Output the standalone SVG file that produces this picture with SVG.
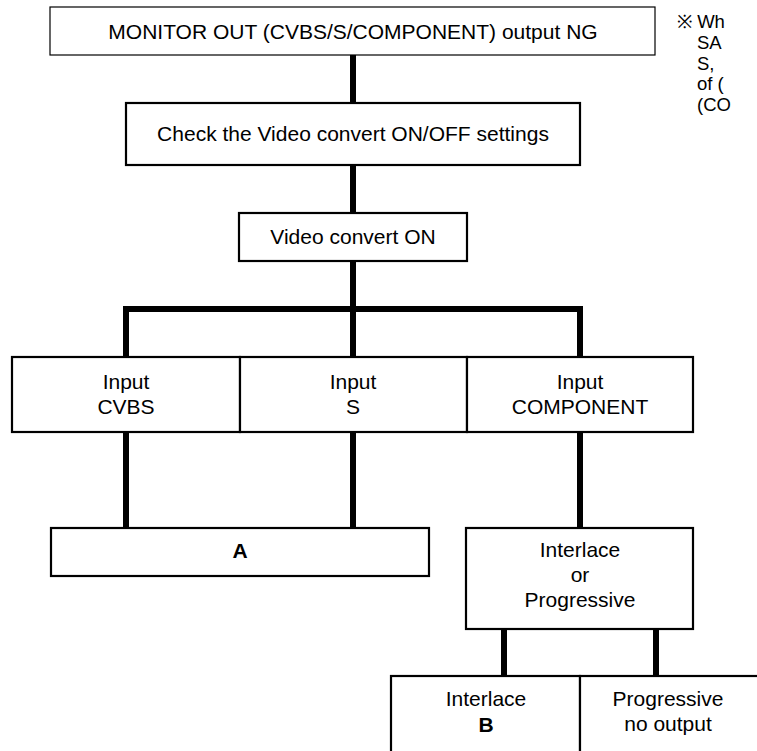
<svg xmlns="http://www.w3.org/2000/svg" width="757" height="751" viewBox="0 0 757 751">
<style>
.bx{fill:#fff;stroke:#000;stroke-width:2.2}
.thin{fill:#fff;stroke:#000;stroke-width:1.2}
.t{font-family:"Liberation Sans",Arial,sans-serif;font-size:21px;fill:#000;text-anchor:middle}
.tl{font-family:"Liberation Sans",Arial,sans-serif;font-size:18.5px;fill:#000}
.b{font-weight:bold}
.c{fill:none;stroke:#000;stroke-width:6;stroke-linejoin:miter;stroke-linecap:butt}
</style>
<rect width="757" height="751" fill="#fff"/>
<g id="connectors">
<path class="c" d="M353,55V103"/>
<path class="c" d="M353,165V213"/>
<path class="c" d="M353,261V357"/>
<path class="c" d="M126,357V309H580V357"/>
<path class="c" d="M126,432V528"/>
<path class="c" d="M353,432V528"/>
<path class="c" d="M580,432V528"/>
<path class="c" d="M504,629V676"/>
<path class="c" d="M656,629V676"/>
</g>
<g id="n-top"><rect class="thin" x="50" y="7" width="605" height="48"/><text class="t" x="353" y="38.5">MONITOR OUT (CVBS/S/COMPONENT) output NG</text></g>
<g id="n-check"><rect class="bx" x="126" y="103" width="454" height="62"/><text class="t" x="353" y="141">Check the Video convert ON/OFF settings</text></g>
<g id="n-von"><rect class="bx" x="239" y="213" width="228" height="48"/><text class="t" x="353" y="244">Video convert ON</text></g>
<g id="n-cvbs"><rect class="bx" x="12" y="357" width="228" height="75"/><text class="t" x="126" y="389">Input</text><text class="t" x="126" y="414">CVBS</text></g>
<g id="n-s"><rect class="bx" x="240" y="357" width="227" height="75"/><text class="t" x="353" y="389">Input</text><text class="t" x="353" y="414">S</text></g>
<g id="n-comp"><rect class="bx" x="467" y="357" width="226" height="75"/><text class="t" x="580" y="389">Input</text><text class="t" x="580" y="414">COMPONENT</text></g>
<g id="n-a"><rect class="bx" x="51" y="528" width="378" height="48"/><text class="t b" x="240" y="558">A</text></g>
<g id="n-ip"><rect class="bx" x="466" y="528" width="227" height="101"/><text class="t" x="580" y="557">Interlace</text><text class="t" x="580" y="582">or</text><text class="t" x="580" y="607">Progressive</text></g>
<g id="n-int"><rect class="bx" x="391" y="676" width="189" height="80"/><text class="t" x="486" y="706">Interlace</text><text class="t b" x="486" y="732">B</text></g>
<g id="n-prog"><rect class="bx" x="580" y="676" width="190" height="80"/><text class="t" x="668" y="706">Progressive</text><text class="t" x="668" y="731">no output</text></g>
<g id="note"><text class="tl" x="677" y="28">※ Wh</text><text class="tl" x="697" y="48.8">SA</text><text class="tl" x="697" y="69.6">S,</text><text class="tl" x="697" y="90.4">of (</text><text class="tl" x="697" y="111.2">(CO</text></g>
</svg>
